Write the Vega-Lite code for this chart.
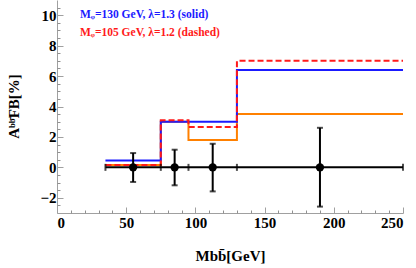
{
  "$schema": "https://vega.github.io/schema/vega-lite/v6.json",
  "width": 346,
  "height": 213,
  "autosize": "none",
  "padding": {"left": 57, "top": 0, "right": 13, "bottom": 55},
  "background": "white",
  "config": {
    "view": {"stroke": null},
    "axis": {"grid": false, "domainColor": "#a0a0a0", "tickColor": "#a0a0a0", "labelFont": "Liberation Serif", "labelFontWeight": "bold", "labelFontSize": 15, "labelColor": "black", "titleFont": "Liberation Serif", "titleFontWeight": "bold", "titleFontSize": 15, "titleColor": "black"}
  },
  "datasets": {
    "orange": [{"x": 35, "y": 0.15}, {"x": 75, "y": 3.0}, {"x": 95, "y": 1.8}, {"x": 130, "y": 3.5}, {"x": 250, "y": 3.5}],
    "blue": [{"x": 35, "y": 0.45}, {"x": 75, "y": 3.0}, {"x": 95, "y": 3.0}, {"x": 130, "y": 6.4}, {"x": 250, "y": 6.4}],
    "red": [{"x": 35, "y": 0.15}, {"x": 75, "y": 3.1}, {"x": 95, "y": 2.65}, {"x": 130, "y": 7.0}, {"x": 250, "y": 7.0}],
    "edges": [{"x": 35}, {"x": 75}, {"x": 95}, {"x": 130}, {"x": 250}],
    "points": [
      {"x": 55, "y": 0, "lo": -0.96, "hi": 0.94},
      {"x": 85, "y": 0, "lo": -1.18, "hi": 1.16},
      {"x": 112.5, "y": 0, "lo": -1.58, "hi": 1.55},
      {"x": 190, "y": 0, "lo": -2.58, "hi": 2.6}
    ],
    "labels": [
      {"x": 16.6, "y": 10.0, "label": "Mᵩ=130 GeV, λ=1.3 (solid)", "series": "blue"},
      {"x": 16.6, "y": 8.8, "label": "Mᵩ=105 GeV, λ=1.2 (dashed)", "series": "red"}
    ]
  },
  "resolve": {"axis": {"x": "independent", "y": "independent"}},
  "layer": [
    {
      "data": {"name": "edges"},
      "mark": {"type": "rule", "strokeOpacity": 0},
      "encoding": {
        "x": {"field": "x", "type": "quantitative", "scale": {"domain": [0, 250], "nice": false},
          "axis": {"orient": "bottom", "values": [10, 20, 30, 40, 60, 70, 80, 90, 110, 120, 130, 140, 160, 170, 180, 190, 210, 220, 230, 240], "tickSize": -3, "tickColor": "#909090", "labels": false, "domain": false, "title": null, "zindex": 1}},
        "y": {"datum": 0, "type": "quantitative", "scale": {"domain": [-3, 11], "nice": false, "zero": false},
          "axis": {"orient": "left", "values": [-2.5, -1.5, -1, -0.5, 0.5, 1, 1.5, 2.5, 3, 3.5, 4.5, 5, 5.5, 6.5, 7, 7.5, 8.5, 9, 9.5, 10.5], "tickSize": -3, "tickColor": "#909090", "labels": false, "domain": false, "title": null, "zindex": 1}}
      }
    },
    {
      "data": {"name": "orange"},
      "mark": {"type": "line", "interpolate": "step-after", "color": "#ff8000", "strokeWidth": 2},
      "encoding": {
        "x": {"field": "x", "type": "quantitative",
          "axis": {"orient": "bottom", "values": [0, 50, 100, 150, 200, 250], "tickSize": -6, "labelPadding": 8, "title": "Mbb̄[GeV]", "titleBaseline": "middle", "titleY": 42, "titleX": 173}},
        "y": {"field": "y", "type": "quantitative",
          "axis": {"orient": "left", "values": [-2, 0, 2, 4, 6, 8, 10], "tickSize": -6, "labelPadding": 7, "title": "Aᵇᵇ̄FB[%]", "titleBaseline": "middle", "titleX": -44, "titleY": 106}}
      }
    },
    {
      "data": {"name": "blue"},
      "mark": {"type": "line", "interpolate": "step-after", "color": "#1a1aff", "strokeWidth": 2},
      "encoding": {
        "x": {"field": "x", "type": "quantitative", "axis": null},
        "y": {"field": "y", "type": "quantitative", "axis": null}
      }
    },
    {
      "data": {"name": "red"},
      "mark": {"type": "line", "interpolate": "step-after", "color": "#ff1a1a", "strokeWidth": 2, "strokeDash": [6, 3]},
      "encoding": {
        "x": {"field": "x", "type": "quantitative", "axis": null},
        "y": {"field": "y", "type": "quantitative", "axis": null}
      }
    },
    {
      "data": {"values": [{"a": 35, "b": 250}]},
      "mark": {"type": "rule", "color": "black", "strokeWidth": 2},
      "encoding": {
        "x": {"field": "a", "type": "quantitative", "axis": null},
        "x2": {"field": "b"},
        "y": {"datum": 0, "type": "quantitative", "axis": null}
      }
    },
    {
      "data": {"name": "edges"},
      "mark": {"type": "tick", "color": "black", "orient": "vertical", "size": 7, "thickness": 2},
      "encoding": {
        "x": {"field": "x", "type": "quantitative", "axis": null},
        "y": {"datum": 0, "type": "quantitative", "axis": null}
      }
    },
    {
      "data": {"name": "points"},
      "mark": {"type": "rule", "color": "black", "strokeWidth": 2},
      "encoding": {
        "x": {"field": "x", "type": "quantitative", "axis": null},
        "y": {"field": "lo", "type": "quantitative", "axis": null},
        "y2": {"field": "hi"}
      }
    },
    {
      "data": {"name": "points"},
      "mark": {"type": "tick", "color": "black", "orient": "horizontal", "size": 6, "thickness": 2},
      "encoding": {
        "x": {"field": "x", "type": "quantitative", "axis": null},
        "y": {"field": "lo", "type": "quantitative", "axis": null}
      }
    },
    {
      "data": {"name": "points"},
      "mark": {"type": "tick", "color": "black", "orient": "horizontal", "size": 6, "thickness": 2},
      "encoding": {
        "x": {"field": "x", "type": "quantitative", "axis": null},
        "y": {"field": "hi", "type": "quantitative", "axis": null}
      }
    },
    {
      "data": {"name": "points"},
      "mark": {"type": "circle", "color": "black", "opacity": 1, "size": 70},
      "encoding": {
        "x": {"field": "x", "type": "quantitative", "axis": null},
        "y": {"field": "y", "type": "quantitative", "axis": null}
      }
    },
    {
      "data": {"name": "labels"},
      "mark": {"type": "text", "align": "left", "baseline": "middle", "font": "Liberation Serif", "fontWeight": "bold", "fontSize": 11.5},
      "encoding": {
        "x": {"field": "x", "type": "quantitative", "axis": null},
        "y": {"field": "y", "type": "quantitative", "axis": null},
        "text": {"field": "label"},
        "color": {"field": "series", "type": "nominal", "scale": {"domain": ["blue", "red"], "range": ["#1a1aff", "#ff1a1a"]}, "legend": null}
      }
    }
  ]
}
